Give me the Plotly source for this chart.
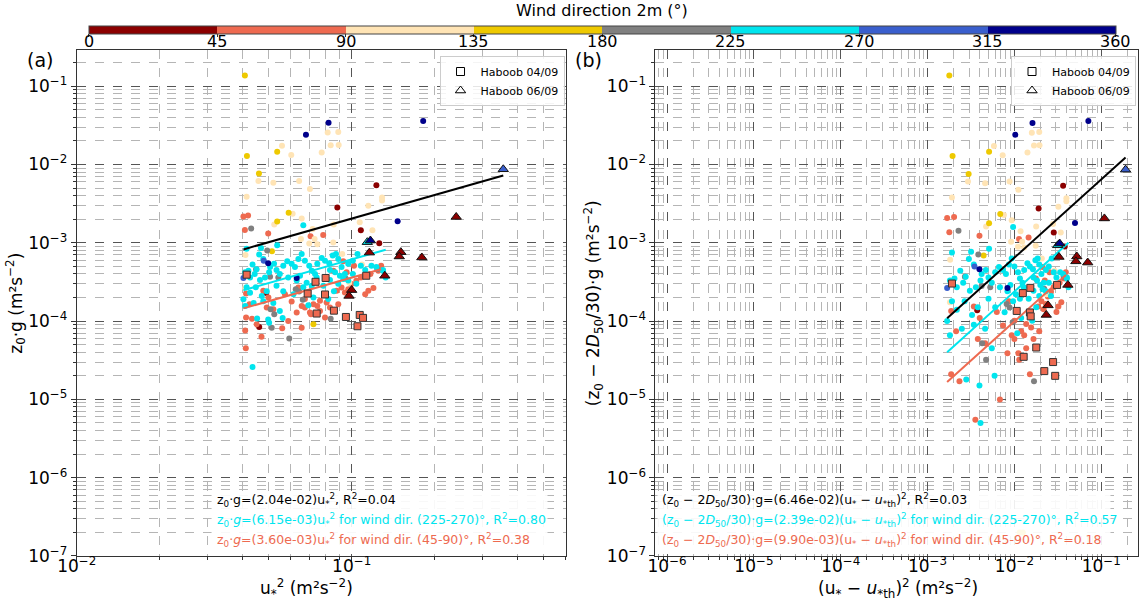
import plotly.graph_objects as go

# ---------------- wind-direction classes ----------------
WD_EDGES = [0, 45, 90, 135, 180, 225, 270, 315, 360]
WD_COLORS = ["#8B0000", "#EE6A50", "#FFE4B5", "#EEC900",
             "#808080", "#00E5EE", "#3A5FCD", "#00008B"]
WD_TICKS = [0, 45, 90, 135, 180, 225, 270, 315, 360]

# ---------------- panel (a): (u*^2, z0*g) ----------------
A_000_045 = [(0.123, 5.43e-3), (0.0887, 2.83e-3), (0.108, 1.45e-3), (0.126, 9.9e-4),
             (0.0461, 8.4e-5), (0.0489, 2.28e-4)]
A_045_090 = [(0.0404, 2.17e-3), (0.0420, 2.23e-3), (0.0409, 1.46e-3), (0.0497, 1.32e-3),
             (0.0709, 1.21e-3), (0.0788, 1.26e-3), (0.0413, 2.25e-4), (0.0425, 1.64e-4),
             (0.0413, 1.11e-4), (0.0434, 1.07e-4), (0.0451, 9.1e-5), (0.0470, 6.3e-5),
             (0.0410, 7.6e-5), (0.0412, 4.5e-5), (0.0491, 1.49e-4), (0.0519, 1.42e-4),
             (0.0572, 2.21e-4), (0.0605, 1.78e-4), (0.0631, 1.29e-4), (0.0658, 1.56e-4),
             (0.0676, 1.49e-4), (0.0705, 1.29e-4), (0.0750, 1.56e-4), (0.0767, 1.82e-4),
             (0.0811, 1.73e-4), (0.0834, 1.49e-4), (0.0882, 2.44e-4), (0.0919, 2.69e-4),
             (0.0945, 2.32e-4), (0.0972, 2.56e-4), (0.0998, 2.97e-4), (0.104, 3.28e-4),
             (0.108, 3.62e-4), (0.112, 2.21e-4), (0.115, 2.44e-4), (0.120, 2.64e-4),
             (0.125, 4.4e-4), (0.117, 4.0e-4), (0.0959, 4.2e-4), (0.102, 5.1e-4),
             (0.0932, 5.8e-4), (0.0858, 4.4e-4), (0.0588, 1.0e-4), (0.0658, 8.2e-5),
             (0.0711, 1.22e-4), (0.0767, 1.35e-4), (0.0800, 1.11e-4), (0.0559, 8.1e-5),
             (0.0477, 2.44e-4), (0.0498, 2.0e-4), (0.0640, 2.69e-4), (0.0676, 1.91e-4),
             (0.0726, 1.64e-4), (0.0894, 1.64e-4), (0.128, 5.1e-4)]
A_090_135 = [(0.0818, 0.0256), (0.0894, 0.0261), (0.0839, 0.0176), (0.0897, 0.0178),
             (0.0778, 0.0143), (0.0558, 0.0174), (0.0603, 0.0132), (0.0458, 6.16e-3),
             (0.0519, 5.86e-3), (0.0644, 6.16e-3), (0.0705, 4.86e-3), (0.129, 3.8e-3),
             (0.129, 3.48e-3), (0.0415, 3.88e-3), (0.115, 2.97e-3), (0.0610, 2.35e-3),
             (0.0523, 1.71e-3), (0.0721, 1.5e-3), (0.0861, 1.71e-3), (0.0654, 1.12e-3),
             (0.0733, 1.12e-3), (0.0701, 9.8e-4), (0.0750, 9.6e-4), (0.0857, 1.01e-3),
             (0.107, 1.83e-3), (0.119, 1.45e-3), (0.0411, 7.0e-4), (0.0658, 2.04e-3),
             (0.0924, 7.2e-4), (0.109, 5.3e-4), (0.098, 3.1e-4), (0.0410, 2.64e-4)]
A_135_180 = [(0.0409, 0.137), (0.0416, 0.0129), (0.0460, 7.66e-3), (0.0536, 0.0146),
             (0.0590, 2.42e-3), (0.0536, 1.87e-3), (0.0513, 7.8e-4), (0.0726, 9.1e-5)]
A_180_225 = [(0.0431, 1.52e-3), (0.0493, 8.0e-4), (0.0449, 4.6e-4), (0.0505, 3.7e-4),
             (0.0541, 3.6e-4), (0.0626, 2.56e-4), (0.0644, 2.39e-4), (0.0664, 1.87e-4),
             (0.0507, 1.42e-4), (0.0523, 1.22e-4), (0.0512, 8.2e-5), (0.0593, 6.0e-5),
             (0.0839, 1.07e-4), (0.0951, 3.5e-4), (0.124, 4.6e-4)]
A_225_270 = [(0.0415, 8.4e-4), (0.0468, 8.6e-4), (0.0536, 9.3e-4), (0.0461, 7.1e-4),
             (0.0477, 6.2e-4), (0.0436, 5.3e-4), (0.0451, 4.6e-4), (0.0421, 4.4e-4),
             (0.0410, 4.2e-4), (0.0427, 3.6e-4), (0.0444, 4.0e-4), (0.0464, 3.35e-4),
             (0.0484, 3.6e-4), (0.0501, 4.2e-4), (0.0505, 4.9e-4), (0.0522, 5.4e-4),
             (0.0533, 4.5e-4), (0.0548, 4.0e-4), (0.0564, 5.1e-4), (0.0583, 5.8e-4),
             (0.0605, 5.4e-4), (0.0622, 4.9e-4), (0.0640, 6.2e-4), (0.0658, 7.2e-4),
             (0.0676, 5.9e-4), (0.0701, 5.1e-4), (0.0716, 4.4e-4), (0.0736, 4.0e-4),
             (0.0750, 5.4e-4), (0.0778, 6.4e-4), (0.0800, 5.9e-4), (0.0829, 5.5e-4),
             (0.0853, 6.9e-4), (0.0877, 7.2e-4), (0.0894, 6.2e-4), (0.0834, 4.5e-4),
             (0.0870, 4.2e-4), (0.0919, 4.9e-4), (0.0945, 4.0e-4), (0.0972, 5.4e-4),
             (0.101, 5.9e-4), (0.105, 7.2e-4), (0.108, 5.1e-4), (0.112, 4.5e-4),
             (0.118, 5.1e-4), (0.123, 4.9e-4), (0.130, 4.4e-4), (0.133, 3.6e-4),
             (0.0548, 1.35e-4), (0.0561, 1.1e-4), (0.0497, 1.05e-4), (0.0501, 9.5e-5),
             (0.0453, 1.08e-4), (0.0436, 2.6e-5), (0.0404, 1.9e-4), (0.0410, 1.56e-4),
             (0.0440, 1.7e-4), (0.0477, 1.8e-4), (0.0519, 1.7e-4), (0.0564, 2.4e-4),
             (0.0614, 2.2e-4), (0.0667, 2.7e-4), (0.0696, 1.6e-4), (0.0726, 2.0e-4),
             (0.0789, 2.83e-4), (0.0822, 1.91e-4), (0.0862, 2.4e-4), (0.0894, 3.0e-4),
             (0.0932, 3.45e-4), (0.0972, 3.3e-4), (0.101, 4.0e-4), (0.104, 3.0e-4),
             (0.0746, 3.6e-4), (0.0631, 3.3e-4), (0.0588, 3.6e-4), (0.0533, 2.83e-4),
             (0.0491, 2.4e-4), (0.0471, 2.1e-4), (0.0427, 2.3e-4), (0.0415, 2.7e-4),
             (0.0448, 2.7e-4), (0.0716, 2.83e-4), (0.0686, 3.1e-4), (0.0649, 3.8e-4),
             (0.0834, 3.35e-4), (0.0906, 3.8e-4), (0.0667, 1.68e-3), (0.130, 4.5e-4)]
A_270_315 = [(0.0479, 5.9e-4), (0.0404, 3.55e-4)]
A_315_360 = [(0.0824, 0.0341), (0.0682, 0.0241), (0.147, 1.88e-3), (0.182, 0.0361),
             (0.0497, 5.5e-4), (0.0631, 3.55e-4)]
A_SQUARES_045_090 = [(0.0415, 3.92e-4), (0.0739, 3.18e-4), (0.0804, 3.56e-4), (0.0692, 2.25e-4),
                     (0.0800, 2.19e-4), (0.0862, 1.36e-4), (0.0746, 1.25e-4), (0.0953, 1.13e-4),
                     (0.107, 1.2e-4), (0.110, 1.1e-4), (0.105, 8.6e-5), (0.113, 3.8e-4)]
A_TRI_000_045 = [(0.100, 2.49e-4), (0.0978, 2.1e-4), (0.132, 3.8e-4), (0.151, 7.6e-4),
                 (0.149, 6.7e-4), (0.180, 6.5e-4), (0.240, 2.14e-3), (0.116, 7.5e-4)]
A_TRI_225_270 = [(0.114, 1.02e-3)]
A_TRI_270_315 = [(0.356, 8.7e-3)]
A_TRI_315_360 = [(0.117, 1.07e-3)]

# ---------------- panel (b): ((u*-u*th)^2, (z0-2D50/30)*g) ----------------
B_000_045 = [(0.0364, 5.34e-3), (0.0190, 2.74e-3), (0.0284, 1.36e-3), (0.0380, 9.0e-4),
             (3.73e-3, 1.38e-4)]
B_045_090 = [(1.68e-3, 2.08e-3), (2.02e-3, 2.14e-3), (1.78e-3, 1.37e-3), (3.96e-3, 1.23e-3),
             (0.0113, 1.12e-3), (0.01457, 1.17e-3), (1.87e-3, 1.35e-4), (2.13e-3, 7.4e-5),
             (1.87e-3, 2.1e-5), (2.33e-3, 1.7e-5), (3.79e-3, 5.9e-5), (4.60e-3, 5.2e-5),
             (6.27e-3, 1.31e-4), (7.40e-3, 8.8e-5), (8.32e-3, 3.9e-5), (9.31e-3, 6.6e-5),
             (0.0100, 5.9e-5), (0.01113, 3.9e-5), (0.01297, 6.6e-5), (0.01367, 9.2e-5),
             (0.01558, 8.3e-5), (0.01659, 5.9e-5), (0.01877, 1.54e-4), (0.02048, 1.79e-4),
             (0.02173, 1.42e-4), (0.02304, 1.66e-4), (0.0243, 2.07e-4), (0.0264, 2.38e-4),
             (0.0284, 2.72e-4), (0.0305, 1.31e-4), (0.0321, 1.54e-4), (0.0347, 1.74e-4),
             (0.0375, 3.5e-4), (0.0332, 3.1e-4), (0.0224, 3.3e-4), (0.0254, 4.2e-4),
             (0.02111, 4.9e-4), (0.01766, 3.5e-4), (6.81e-3, 1.0e-5), (0.01136, 3.2e-5),
             (0.01367, 4.5e-5), (0.01508, 2.1e-5), (3.41e-3, 1.54e-4), (3.99e-3, 1.1e-4),
             (8.65e-3, 1.79e-4), (0.0100, 1.01e-4), (0.01197, 7.4e-5), (0.01932, 7.4e-5),
             (0.0391, 4.2e-4), (3.55e-3, 5.5e-6)]
B_090_135 = [(0.01588, 0.0255), (0.01932, 0.0260), (0.01682, 0.0175), (0.01946, 0.0177),
             (0.01414, 0.0142), (5.81e-3, 0.0173), (7.33e-3, 0.0131), (2.92e-3, 6.07e-3),
             (4.60e-3, 5.77e-3), (8.80e-3, 6.07e-3), (0.01113, 4.77e-3), (0.0397, 3.71e-3),
             (0.0397, 3.39e-3), (1.91e-3, 3.79e-3), (0.0321, 2.88e-3), (7.57e-3, 2.26e-3),
             (4.72e-3, 1.62e-3), (0.01177, 1.41e-3), (0.0178, 1.62e-3), (9.16e-3, 1.03e-3),
             (0.01226, 1.03e-3), (0.01098, 8.9e-4), (0.01297, 8.7e-4), (0.01761, 9.2e-4),
             (0.0279, 1.74e-3), (0.0342, 1.36e-3), (1.82e-3, 6.1e-4), (9.31e-3, 1.95e-3),
             (0.0207, 6.3e-4), (0.0290, 4.4e-4), (0.0234, 2.2e-4), (1.81e-3, 1.74e-4)]
B_135_180 = [(1.78e-3, 0.137), (1.94e-3, 0.0129), (2.97e-3, 7.57e-3), (5.11e-3, 0.0146),
             (6.87e-3, 2.33e-3), (5.11e-3, 1.78e-3), (4.42e-3, 6.9e-4), (0.0115, 2.0e-7),
             (0.0125, 2.0e-7)]
B_180_225 = [(2.27e-3, 1.43e-3), (3.84e-3, 7.1e-4), (2.69e-3, 3.7e-4), (4.19e-3, 2.8e-4),
             (5.27e-3, 2.7e-4), (8.14e-3, 1.66e-4), (8.80e-3, 1.49e-4), (9.55e-3, 9.7e-5),
             (4.25e-3, 5.2e-5), (4.72e-3, 3.2e-5), (0.01682, 1.7e-5), (0.0220, 2.6e-4),
             (0.0369, 3.7e-4)]
B_225_270 = [(1.91e-3, 7.5e-4), (3.17e-3, 7.7e-4), (5.11e-3, 8.4e-4), (2.99e-3, 6.2e-4),
             (3.41e-3, 5.3e-4), (2.38e-3, 4.4e-4), (2.75e-3, 3.7e-4), (2.04e-3, 3.5e-4),
             (1.81e-3, 3.3e-4), (2.17e-3, 2.7e-4), (2.57e-3, 3.1e-4), (3.07e-3, 2.45e-4),
             (3.60e-3, 2.7e-4), (4.07e-3, 3.3e-4), (4.19e-3, 4.0e-4), (4.69e-3, 4.5e-4),
             (5.03e-3, 3.6e-4), (5.49e-3, 3.1e-4), (6.01e-3, 4.2e-4), (6.64e-3, 4.9e-4),
             (7.40e-3, 4.5e-4), (7.99e-3, 4.0e-4), (8.65e-3, 5.3e-4), (9.31e-3, 6.3e-4),
             (0.0100, 5.0e-4), (0.01098, 4.2e-4), (0.01158, 3.5e-4), (0.01239, 3.1e-4),
             (0.01297, 4.5e-4), (0.01414, 5.5e-4), (0.01508, 5.0e-4), (0.01636, 4.6e-4),
             (0.01745, 6.0e-4), (0.01852, 6.3e-4), (0.01932, 5.3e-4), (0.01659, 3.6e-4),
             (0.01822, 3.3e-4), (0.02048, 4.0e-4), (0.02173, 3.1e-4), (0.02304, 4.5e-4),
             (0.0249, 5.0e-4), (0.0269, 6.3e-4), (0.0284, 4.2e-4), (0.0305, 3.6e-4),
             (0.0337, 4.2e-4), (0.0364, 4.0e-4), (0.0402, 3.5e-4), (0.0419, 2.7e-4),
             (5.49e-3, 4.5e-5), (5.91e-3, 2.0e-5), (3.96e-3, 1.5e-5), (4.07e-3, 5.0e-6),
             (2.79e-3, 1.8e-5), (1.68e-3, 1.0e-4), (1.81e-3, 6.6e-5), (2.48e-3, 8.0e-5),
             (3.41e-3, 9.0e-5), (4.60e-3, 8.0e-5), (6.01e-3, 1.5e-4), (7.71e-3, 1.3e-4),
             (9.66e-3, 1.8e-4), (0.01078, 7.0e-5), (0.01197, 1.1e-4), (0.01462, 1.93e-4),
             (0.01605, 1.01e-4), (0.01785, 1.5e-4), (0.01932, 2.1e-4), (0.02111, 2.55e-4),
             (0.02304, 2.4e-4), (0.0249, 3.1e-4), (0.0264, 2.1e-4), (0.01279, 2.7e-4),
             (8.32e-3, 2.4e-4), (6.81e-3, 2.7e-4), (5.03e-3, 1.93e-4), (3.79e-3, 1.5e-4),
             (3.25e-3, 1.2e-4), (2.17e-3, 1.4e-4), (1.91e-3, 1.8e-4), (2.67e-3, 1.8e-4),
             (0.01158, 1.93e-4), (0.01038, 2.2e-4), (8.99e-3, 2.9e-4), (0.01659, 2.45e-4),
             (0.01988, 2.9e-4), (9.66e-3, 1.59e-3), (0.0402, 3.6e-4)]
B_270_315 = [(3.47e-3, 5.0e-4), (1.68e-3, 2.65e-4)]
B_315_360 = [(0.01615, 0.0340), (0.01024, 0.0240), (0.0499, 1.79e-3), (0.0711, 0.0360),
             (3.96e-3, 4.6e-4), (8.32e-3, 2.65e-4)]
B_SQUARES_045_090 = [(1.91e-3, 3.02e-4), (0.0125, 2.28e-4), (0.01526, 2.66e-4), (0.01063, 1.35e-4),
                     (0.01509, 1.29e-4), (0.0154, 1.15e-4), (0.01785, 4.6e-5), (0.01279, 3.5e-5),
                     (0.0221, 2.3e-5), (0.0279, 3.0e-5), (0.0295, 2.0e-5), (0.0310, 2.9e-4)]
B_TRI_000_045 = [(0.0244, 1.59e-4), (0.0233, 1.2e-4), (0.0413, 2.9e-4), (0.0523, 6.7e-4),
                 (0.0511, 5.8e-4), (0.0699, 5.6e-4), (0.1088, 2.05e-3), (0.0326, 6.6e-4)]
B_TRI_225_270 = [(0.0315, 9.3e-4)]
B_TRI_270_315 = [(0.1907, 8.61e-3)]
B_TRI_315_360 = [(0.0332, 9.8e-4)]

# ---------------- linear fits y = k * x ----------------
FIT_A_ALL, FIT_A_CYAN, FIT_A_TOMATO = 2.04e-2, 6.15e-3, 3.60e-3
FIT_B_ALL, FIT_B_CYAN, FIT_B_TOMATO = 6.46e-2, 2.39e-2, 9.90e-3

TXT_A = ["z<sub>0</sub>·g=(2.04e-02)u<sub>*</sub><sup>2</sup>, R<sup>2</sup>=0.04",
         "z<sub>0</sub>·<i>g</i>=(6.15e-03)u<sub>*</sub><sup>2</sup> for wind dir. (225-270)°, R<sup>2</sup>=0.80",
         "z<sub>0</sub>·<i>g</i>=(3.60e-03)u<sub>*</sub><sup>2</sup> for wind dir. (45-90)°, R<sup>2</sup>=0.38"]
TXT_B = ["(z<sub>0</sub> − 2<i>D</i><sub>50</sub>/30)·g=(6.46e-02)(u<sub>*</sub> − <i>u</i><sub>*th</sub>)<sup>2</sup>, R<sup>2</sup>=0.03",
         "(z<sub>0</sub> − 2<i>D</i><sub>50</sub>/30)·g=(2.39e-02)(u<sub>*</sub> − <i>u</i><sub>*th</sub>)<sup>2</sup> for wind dir. (225-270)°, R<sup>2</sup>=0.57",
         "(z<sub>0</sub> − 2<i>D</i><sub>50</sub>/30)·g=(9.90e-03)(u<sub>*</sub> − <i>u</i><sub>*th</sub>)<sup>2</sup> for wind dir. (45-90)°, R<sup>2</sup>=0.18"]
TXT_COLORS = ["black", "#00E5EE", "#EE6A50"]
XTITLE_A = "u<sub>*</sub><sup>2</sup> (m²s<sup>−2</sup>)"
XTITLE_B = "(u<sub>*</sub> − <i>u</i><sub>*th</sub>)<sup>2</sup> (m²s<sup>−2</sup>)"
CB_TITLE = "Wind direction 2m (°)"

FONT = "DejaVu Sans"
W, H = 1140, 601
CB_LEFT_PX, CB_LEN_PX = 88.8, 1027.0

def bin_center(i):
    return 0.5 * (WD_EDGES[i] + WD_EDGES[i + 1])

def pts_trace(pts, ibin, xa, ya, symbol="circle", size=6, edge=None):
    return go.Scatter(
        x=[p[0] for p in pts], y=[p[1] for p in pts], mode="markers",
        xaxis=xa, yaxis=ya, showlegend=False, hoverinfo="skip",
        marker=dict(color=[bin_center(ibin)] * len(pts), coloraxis="coloraxis",
                    symbol=symbol, size=size,
                    line=dict(color=edge or "rgba(0,0,0,0)", width=1 if edge else 0)))

def fit_trace(pts, k, color, xa, ya):
    xs = [p[0] for p in pts]
    x0, x1 = min(xs), max(xs)
    return go.Scatter(x=[x0, x1], y=[k * x0, k * x1], mode="lines", xaxis=xa, yaxis=ya,
                      line=dict(color=color, width=2), showlegend=False, hoverinfo="skip")

fig = go.Figure()

panels = [
    ("x", "y", [A_000_045, A_045_090, A_090_135, A_135_180, A_180_225, A_225_270, A_270_315, A_315_360],
     A_SQUARES_045_090, [(A_TRI_000_045, 0), (A_TRI_225_270, 5), (A_TRI_270_315, 6), (A_TRI_315_360, 7)],
     (FIT_A_ALL, FIT_A_CYAN, FIT_A_TOMATO)),
    ("x2", "y2", [B_000_045, B_045_090, B_090_135, B_135_180, B_180_225, B_225_270, B_270_315, B_315_360],
     B_SQUARES_045_090, [(B_TRI_000_045, 0), (B_TRI_225_270, 5), (B_TRI_270_315, 6), (B_TRI_315_360, 7)],
     (FIT_B_ALL, FIT_B_CYAN, FIT_B_TOMATO)),
]

for xa, ya, bins, squares, tris, fits in panels:
    for i, pts in enumerate(bins):
        if pts:
            fig.add_trace(pts_trace(pts, i, xa, ya))
    all_pts = [p for b in bins for p in b] + squares + [p for t, _ in tris for p in t]
    fig.add_trace(fit_trace(all_pts, fits[0], "black", xa, ya))
    fig.add_trace(fit_trace(bins[5], fits[1], WD_COLORS[5], xa, ya))
    fig.add_trace(fit_trace(bins[1] + squares, fits[2], WD_COLORS[1], xa, ya))
    fig.add_trace(pts_trace(squares, 1, xa, ya, symbol="square", size=7, edge="#333333"))
    for t, ib in tris:
        fig.add_trace(pts_trace(t, ib, xa, ya, symbol="triangle-up", size=9, edge="#111111"))

# legend entries (open markers)
for leg, xa, ya in [("legend", "x", "y"), ("legend2", "x2", "y2")]:
    fig.add_trace(go.Scatter(x=[None], y=[None], mode="markers", name="Haboob 04/09", legend=leg,
                             xaxis=xa, yaxis=ya,
                             marker=dict(symbol="square-open", color="black", size=8, line=dict(width=1))))
    fig.add_trace(go.Scatter(x=[None], y=[None], mode="markers", name="Haboob 06/09", legend=leg,
                             xaxis=xa, yaxis=ya,
                             marker=dict(symbol="triangle-up-open", color="black", size=9, line=dict(width=1))))

# discrete colour scale for the wind-direction colour bar
cs = []
n = len(WD_COLORS)
for i, c in enumerate(WD_COLORS):
    cs.append([i / n, c])
    cs.append([(i + 1) / n, c])

YT = [1e-7, 1e-6, 1e-5, 1e-4, 1e-3, 1e-2, 1e-1]
YTT = ["10<sup>−7</sup>", "10<sup>−6</sup>", "10<sup>−5</sup>", "10<sup>−4</sup>",
       "10<sup>−3</sup>", "10<sup>−2</sup>", "10<sup>−1</sup>"]
XA_T = [1e-2, 1e-1]
XA_TT = ["10<sup>−2</sup>", "10<sup>−1</sup>"]
XB_T = [1e-6, 1e-5, 1e-4, 1e-3, 1e-2, 1e-1]
XB_TT = ["10<sup>−6</sup>", "10<sup>−5</sup>", "10<sup>−4</sup>", "10<sup>−3</sup>",
         "10<sup>−2</sup>", "10<sup>−1</sup>"]

def ax(**kw):
    d = dict(type="log", showline=True, linecolor="#333333", linewidth=1, mirror=True,
             ticks="outside", ticklen=5, tickcolor="#333333", zeroline=False,
             showgrid=True, gridcolor="#555555", griddash="dash", gridwidth=0.8,
             tickfont=dict(size=17, color="black", family=FONT),
             title_font=dict(size=17, color="black", family=FONT),
             minor=dict(dtick="D1", showgrid=True, gridcolor="#b5b5b5", griddash="dash",
                        gridwidth=0.6, ticks="outside", ticklen=3, tickcolor="#333333"),
             automargin=False, tickmode="array")
    d.update(kw)
    return d

YDOM = [0.0749, 0.916]
fig.update_layout(
    width=W, height=H, margin=dict(l=0, r=0, t=0, b=0, autoexpand=False),
    paper_bgcolor="white", plot_bgcolor="white",
    font=dict(family=FONT, color="black"),
    xaxis=ax(domain=[0.0673, 0.4961], range=[-2, -0.222], anchor="y",
             tickvals=XA_T, ticktext=XA_TT, ticklabelstandoff=-10),
    yaxis=ax(domain=YDOM, range=[-7, -0.543], anchor="x", tickvals=YT, ticktext=YTT,
             title=dict(text="z<sub>0</sub>·g (m²s<sup>−2</sup>)", standoff=0)),
    xaxis2=ax(domain=[0.5749, 0.9982], range=[-6.135, -0.577], anchor="y2",
              tickvals=XB_T, ticktext=XB_TT, ticklabelstandoff=-10),
    yaxis2=ax(domain=YDOM, range=[-7, -0.543], anchor="x2", tickvals=YT, ticktext=YTT,
              title=dict(text="(z<sub>0</sub> − 2<i>D</i><sub>50</sub>/30)·g (m²s<sup>−2</sup>)", standoff=2)),
    coloraxis=dict(cmin=WD_EDGES[0], cmax=WD_EDGES[-1], colorscale=cs,
                   colorbar=dict(orientation="h", lenmode="pixels", len=CB_LEN_PX,
                                 thicknessmode="pixels", thickness=8,
                                 x=(CB_LEFT_PX + CB_LEN_PX / 2) / W, xanchor="center",
                                 y=(H - 26.5) / H, yanchor="top",
                                 xpad=0, ypad=0, outlinecolor="#444444", outlinewidth=1,
                                 tickmode="array", tickvals=WD_TICKS, ticks="outside",
                                 ticklen=3, tickcolor="#333333", showticklabels=False)),
    legend=dict(x=0.4952, y=0.9068, xanchor="right", yanchor="top",
                bgcolor="rgba(255,255,255,0.85)", bordercolor="#cccccc", borderwidth=1,
                font=dict(size=11, family=FONT), tracegroupgap=0, itemwidth=30),
    legend2=dict(x=0.9965, y=0.9068, xanchor="right", yanchor="top",
                 bgcolor="rgba(255,255,255,0.85)", bordercolor="#cccccc", borderwidth=1,
                 font=dict(size=11, family=FONT), tracegroupgap=0, itemwidth=30),
)

# colour-bar title and tick labels (positioned along the bar's own scale)
fig.add_annotation(text=CB_TITLE, xref="paper", yref="paper",
                   x=602.0 / W, y=(H - 11) / H, xanchor="center", yanchor="middle",
                   showarrow=False, font=dict(size=16, family=FONT, color="black"))
for v in WD_TICKS:
    xpx = CB_LEFT_PX + (v - WD_EDGES[0]) / (WD_EDGES[-1] - WD_EDGES[0]) * CB_LEN_PX
    fig.add_annotation(text=str(v), xref="paper", yref="paper", x=xpx / W, y=(H - 41) / H,
                       xanchor="center", yanchor="middle", showarrow=False,
                       font=dict(size=16, family=FONT, color="black"))

# x-axis titles
fig.add_annotation(text=XTITLE_A, xref="paper", yref="paper", x=306 / W, y=(H - 588) / H,
                   xanchor="center", yanchor="middle", showarrow=False,
                   font=dict(size=17, family=FONT, color="black"))
fig.add_annotation(text=XTITLE_B, xref="paper", yref="paper", x=898 / W, y=(H - 588) / H,
                   xanchor="center", yanchor="middle", showarrow=False,
                   font=dict(size=17, family=FONT, color="black"))

# white boxes behind the fit texts (blank annotations with fixed size)
fig.add_annotation(text=" ", xref="x domain", yref="y domain", x=0.2747, y=0.1286,
                   xanchor="left", yanchor="top", width=335, height=60, borderpad=0,
                   bgcolor="rgba(255,255,255,0.9)", showarrow=False)
fig.add_annotation(text=" ", xref="x2 domain", yref="y2 domain", x=0.0033, y=0.1286,
                   xanchor="left", yanchor="top", width=452, height=60, borderpad=0,
                   bgcolor="rgba(255,255,255,0.9)", showarrow=False)

line_y = [0.1108, 0.0712, 0.0317]
for txt, col, yy in zip(TXT_A, TXT_COLORS, line_y):
    fig.add_annotation(text=txt, xref="x domain", yref="y domain", x=0.283, y=yy,
                       xanchor="left", yanchor="middle", showarrow=False,
                       font=dict(size=12.5, color=col, family=FONT))
for txt, col, yy in zip(TXT_B, TXT_COLORS, line_y):
    fig.add_annotation(text=txt, xref="x2 domain", yref="y2 domain", x=0.0095, y=yy,
                       xanchor="left", yanchor="middle", showarrow=False,
                       font=dict(size=12.5, color=col, family=FONT))

fig.add_annotation(text="(a)", xref="paper", yref="paper", x=40 / W, y=(H - 60) / H,
                   xanchor="center", yanchor="middle",
                   showarrow=False, font=dict(size=19, family=FONT, color="black"))
fig.add_annotation(text="(b)", xref="paper", yref="paper", x=588 / W, y=(H - 60) / H,
                   xanchor="center", yanchor="middle",
                   showarrow=False, font=dict(size=19, family=FONT, color="black"))

fig.write_html("out.html", config={"displayModeBar": False},
               post_script="document.body.style.margin='0px';")
